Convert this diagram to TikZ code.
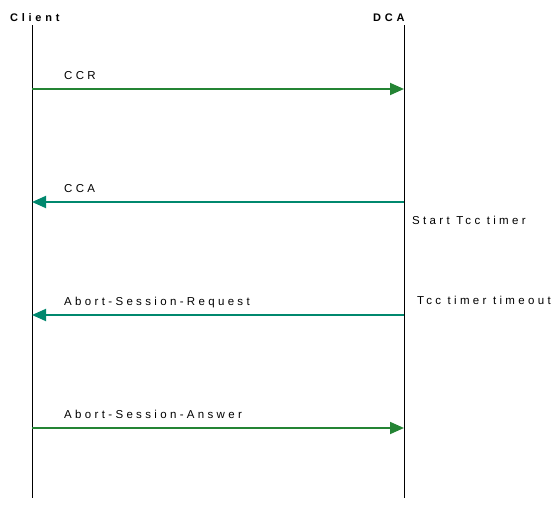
\documentclass[tikz,border=0pt]{standalone}
\usepackage{fontspec}
\setmainfont{Liberation Sans}[LetterSpace=29]
\usetikzlibrary{arrows.meta}
\usetikzlibrary{positioning}
\definecolor{reqgreen}{RGB}{36,132,52}
\definecolor{ansteal}{RGB}{0,136,110}
\tikzset{%
  lifeline/.style = {draw,black,line width=0.9pt},
  entity/.style = {font=\fontsize{11}{13}\selectfont\bfseries\addfontfeature{LetterSpace=34},inner sep=0pt,anchor=base west},
  msg/.style = {font=\fontsize{11.5}{13}\selectfont,inner sep=0pt,anchor=base west},
  rightarrow/.style = {-{Triangle[length=14pt,width=12pt]},line width=1.8pt,reqgreen},
  leftarrow/.style = {-{Triangle[length=14pt,width=12pt]},line width=1.8pt,ansteal}
}
\begin{document}
\begin{tikzpicture}[x=1pt,y=-1pt]
   \useasboundingbox (0,0) rectangle (558,506);
   \node[entity] (client) at (10,21.5) {Client};
   \node[entity] (dca) at (373,21.5) {DCA};

   \coordinate (ctop) at (32,25);
   \coordinate (cbot) at (32,498);
   \coordinate (dtop) at (404,25);
   \coordinate (dbot) at (404,498);
   \draw[lifeline] (ctop) -- (cbot);
   \draw[lifeline] (dtop) -- (dbot);

   \coordinate (c1) at (32,89);   \coordinate (d1) at (404,89);
   \coordinate (c2) at (32,202);  \coordinate (d2) at (404,202);
   \coordinate (c3) at (32,315);  \coordinate (d3) at (404,315);
   \coordinate (c4) at (32,428);  \coordinate (d4) at (404,428);

   \draw[rightarrow] (c1) -- (d1);
   \draw[leftarrow] (d2) -- (c2);
   \draw[leftarrow] (d3) -- (c3);
   \draw[rightarrow] (c4) -- (d4);

   \node[msg] (ccr) at (64,79) {CCR};
   \node[msg] (cca) at (64,192) {CCA};
   \node[msg] (asr) at (64,305.5) {Abort-Session-Request};
   \node[msg] (asa) at (64,418) {Abort-Session-Answer};
   \node[msg] (start) at (412,224) {Start Tcc timer};
   \node[msg] (timeout) at (417,304) {Tcc timer timeout};
\end{tikzpicture}
\end{document}
